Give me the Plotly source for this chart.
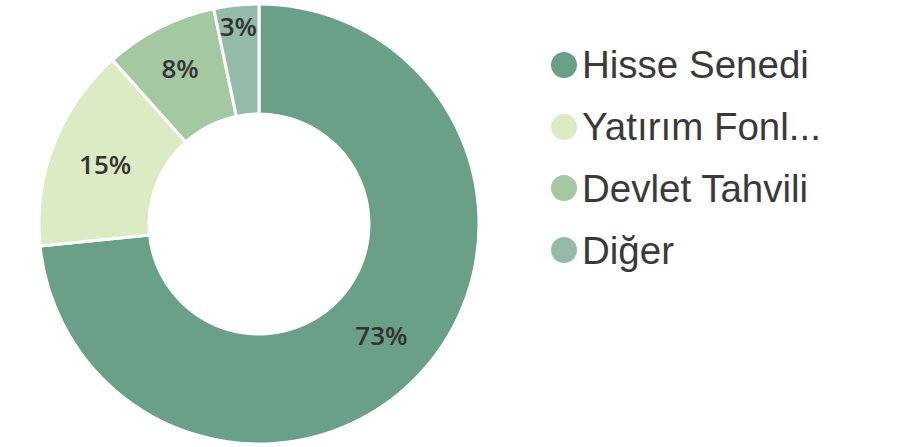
import plotly.graph_objects as go

categories = ["Hisse Senedi", "Yatırım Fonl...", "Devlet Tahvili", "Diğer"]
values = [73.4, 15.0, 8.3, 3.3]
colors = ["#6a9f88", "#dcebc3", "#a3c8a2", "#94bba8"]

W, H = 901, 447
cx, cy, R = 259, 224, 220

fig = go.Figure()
fig.add_trace(go.Pie(
    labels=categories,
    values=values,
    hole=0.5,
    sort=False,
    direction="clockwise",
    rotation=0,
    marker=dict(colors=colors, line=dict(color="white", width=3)),
    texttemplate="%{percent:.0%}",
    textposition="inside",
    insidetextorientation="horizontal",
    textfont=dict(family="Open Sans", size=26, color="#333333", weight=600),
    showlegend=False,
    domain=dict(x=[(cx - R) / W, (cx + R) / W], y=[(H - cy - R) / H, (H - cy + R) / H]),
))

# custom legend with circular markers
legend_y = [65, 127, 188, 250]
shapes = []
annotations = []
for name, col, ly in zip(categories, colors, legend_y):
    shapes.append(dict(
        type="circle", xref="paper", yref="paper",
        xsizemode="pixel", ysizemode="pixel",
        xanchor=564 / W, yanchor=(H - ly) / H,
        x0=-13, x1=13, y0=-13, y1=13,
        fillcolor=col, line=dict(width=0),
    ))
    annotations.append(dict(
        text=name, xref="paper", yref="paper",
        x=580 / W, y=(H - ly) / H, xanchor="left", yanchor="middle",
        showarrow=False,
        font=dict(family="Liberation Sans, Arial", size=38.5, color="#3a3a3a"),
    ))

fig.update_layout(
    width=W, height=H,
    margin=dict(l=0, r=0, t=0, b=0),
    paper_bgcolor="white", plot_bgcolor="white",
    uniformtext=dict(minsize=26, mode="show"),
    shapes=shapes, annotations=annotations,
)

fig.write_html("out.html", config={"displayModeBar": False},
               post_script="document.body.style.margin='0';document.body.style.overflow='hidden';")
